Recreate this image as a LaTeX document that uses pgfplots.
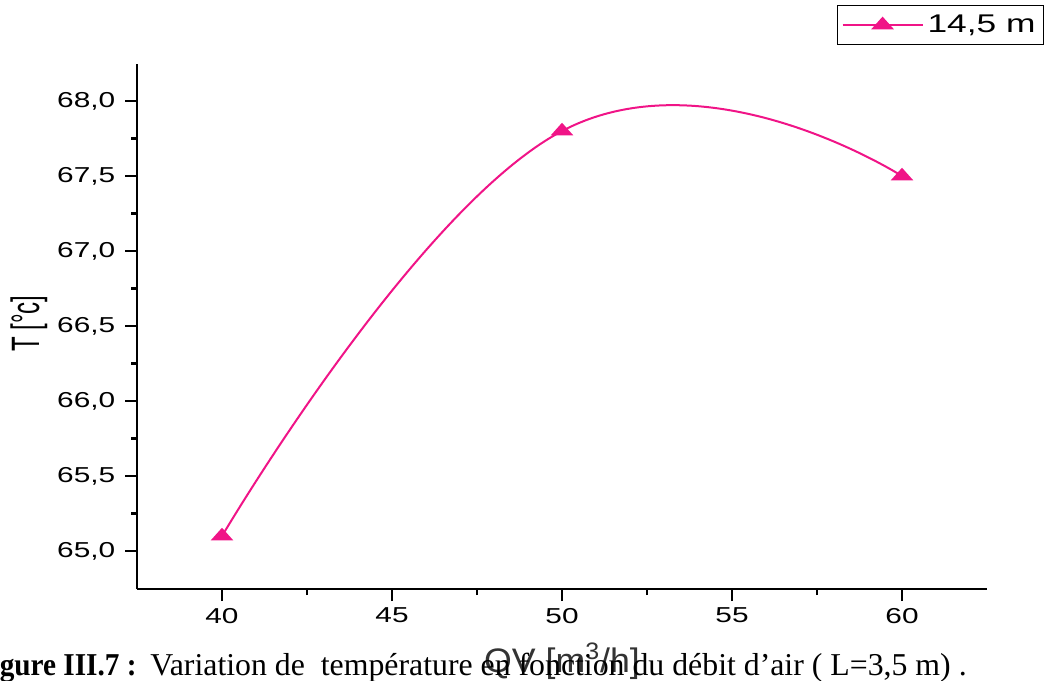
\documentclass[border=0pt]{standalone}
\usepackage{pgfplots}
\pgfplotsset{compat=1.18}
\usepackage{fontspec}
\setmainfont{Liberation Sans}
\newfontfamily\capfont{Liberation Serif}
\definecolor{pk}{RGB}{240,20,135}
\begin{document}
\begin{tikzpicture}
\useasboundingbox (0pt,0pt) rectangle (524pt,340pt);
\begin{axis}[
  at={(68.5pt,45.5pt)}, anchor=south west,
  scale only axis, width=425pt, height=262.5pt,
  xmin=37.5, xmax=62.5, ymin=64.747, ymax=68.247,
  axis x line*=bottom, axis y line*=left,
  axis line style={line width=1.2pt, black},
  tick style={line width=1.2pt, black},
  tick align=outside,
  major tick length=6pt, minor tick length=3pt,
  xtick={40,45,50,55,60}, minor x tick num=1,
  ytick={65,65.5,66,66.5,67,67.5,68}, minor y tick num=1,
  /pgf/number format/assume math mode=true,
  ticklabel style={font=\fontsize{10.8}{12}\selectfont, xscale=1.38},
  yticklabel style={/pgf/number format/.cd, fixed, fixed zerofill, precision=1, use comma},
  legend style={at={(0.8235,1.1124)}, anchor=north west, draw=black, line width=0.6pt,
    font=\fontsize{12.8}{15}\selectfont, inner xsep=2pt, inner ysep=2.5pt},
  legend image code/.code={\draw[#1, mark repeat=2, mark phase=2] plot coordinates {(0pt,0pt) (20pt,0pt) (40pt,0pt)};},
]
\addplot[pk, line width=1pt, smooth, tension=0.78, mark=triangle*, mark size=3.4pt,
  mark options={solid, fill=pk, xscale=1.55}]
  coordinates {(40,65.1) (50,67.8) (60,67.5)};
\addlegendentry{\scalebox{1.38}[1]{14,5 m}}
\end{axis}
\node[rotate=90, anchor=center, font=\fontsize{12}{14}\selectfont] at (14.5pt,178.25pt) {\scalebox{1}[1.65]{T [°c]}};
\node[anchor=base, text=black!80, font=\fontsize{17}{20}\selectfont, xscale=1.05, inner sep=0pt] at (281pt,4pt) {QV [m\textsuperscript{3}/h]};
\node[anchor=base east, font=\capfont\fontsize{15.9}{18}\selectfont\bfseries, inner sep=0pt] at (68.5pt,2.5pt) {\scalebox{0.92}[1]{Figure III.7 :}};
\node[anchor=base west, font=\capfont\fontsize{15.9}{18}\selectfont, inner sep=0pt] at (75pt,2.5pt) {Variation de\ \ température en fonction du débit d’air ( L=3,5 m) .};
\end{tikzpicture}
\end{document}
